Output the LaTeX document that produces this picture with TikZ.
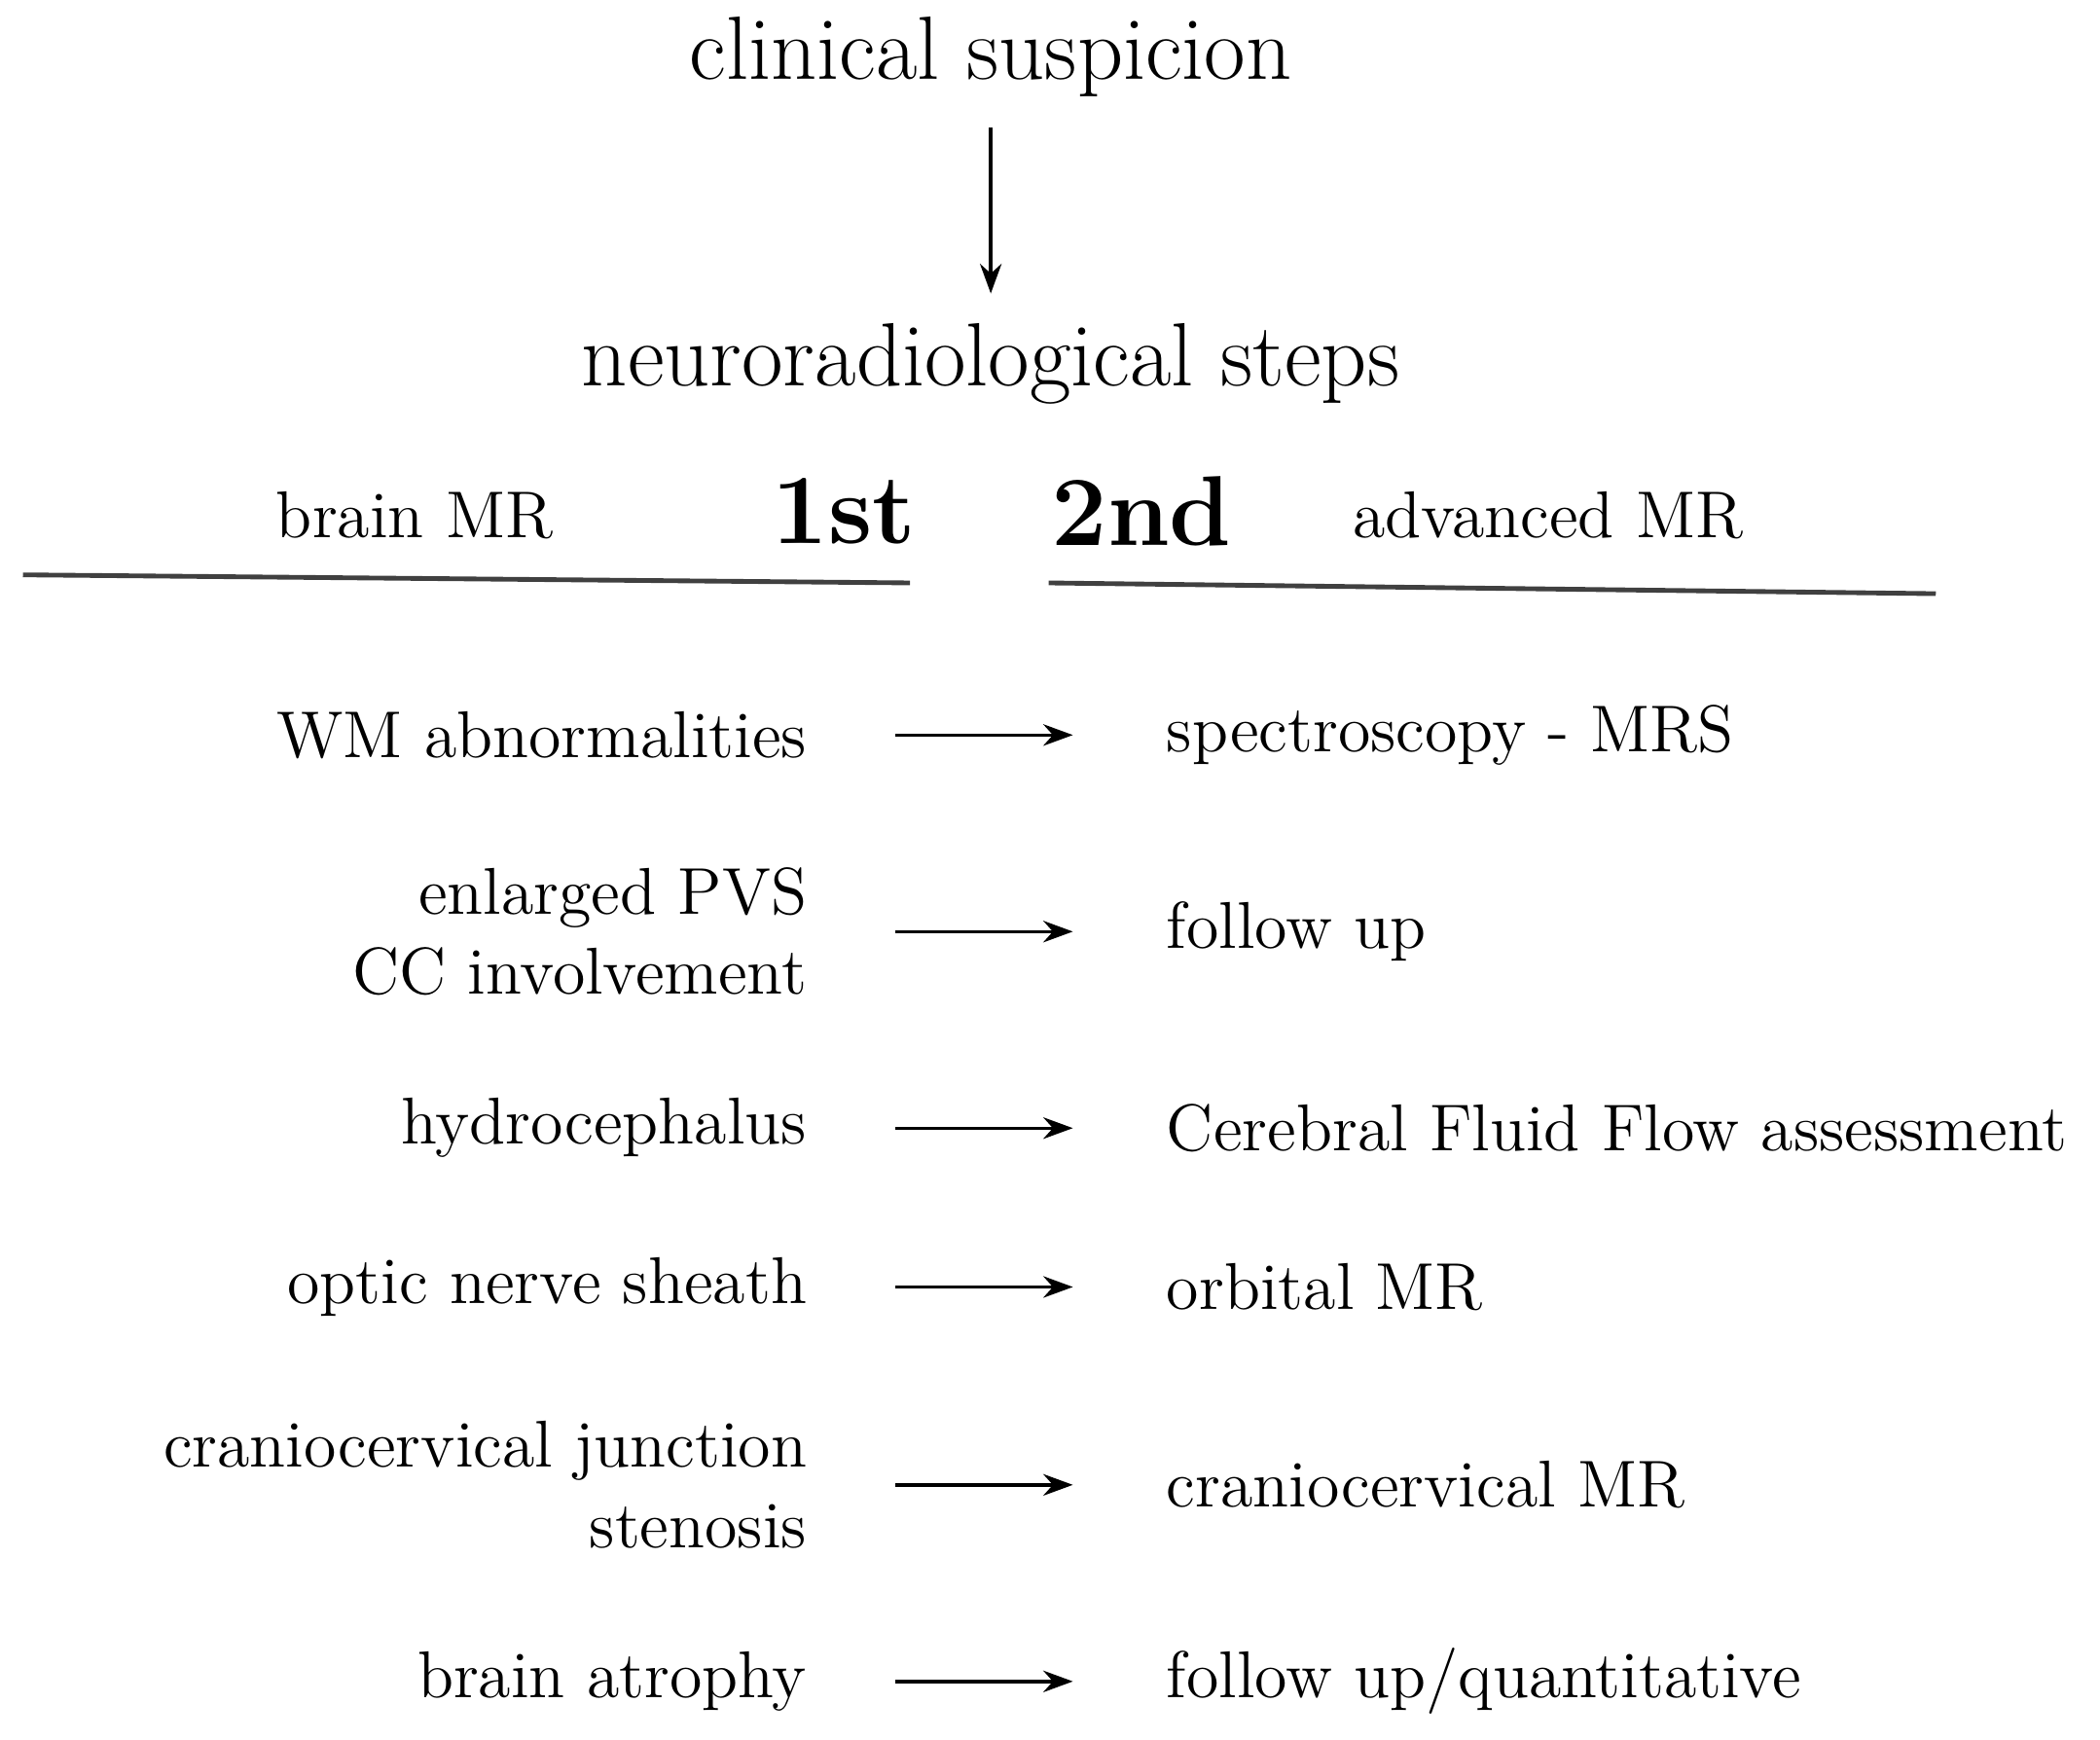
\documentclass[tikz,border=0pt]{standalone}
\usetikzlibrary{arrows.meta}
\begin{document}
\begin{tikzpicture}[x=0.1mm,y=-0.1mm,
  big/.style={font=\fontsize{19}{22}\selectfont},
  hd/.style={font=\fontsize{14}{16}\selectfont},
  num/.style={font=\bfseries\fontsize{21}{24}\selectfont},
  l/.style={font=\fontsize{14}{17}\selectfont, anchor=east, align=right, inner sep=0},
  r/.style={font=\fontsize{14}{17}\selectfont, anchor=west, inner sep=0},
  ar/.style={-{Stealth[length=2.2mm,width=1.6mm]}, line width=0.7pt}]
\useasboundingbox (0,0) rectangle (1560,1292);
\node[big] (cs) at (736,42) {clinical suspicion};
\node[big] (ns) at (736,270) {neuroradiological steps};
\coordinate (a0) at (736,95); \coordinate (a1) at (736,218);
\draw[ar] (a0) -- (a1);
\node[hd] (bm) at (308,383) {brain MR};
\node[num] (n1) at (627,380) {1st};
\node[num] (n2) at (848,380) {2nd};
\node[hd] (am) at (1150,383) {advanced MR};
\coordinate (l0) at (17,427); \coordinate (l1) at (676,433);
\coordinate (l2) at (779,433); \coordinate (l3) at (1438,441);
\draw[line width=1pt, black!75] (l0) -- (l1);
\draw[line width=1pt, black!75] (l2) -- (l3);
\foreach \i/\y/\a/\b in {1/546/WM abnormalities/spectroscopy - MRS,
  2/692/{enlarged PVS\\CC involvement}/follow up,
  3/838/hydrocephalus/Cerebral Fluid Flow assessment,
  4/956/optic nerve sheath/orbital MR,
  5/1103/{craniocervical junction\\stenosis}/craniocervical MR,
  6/1249/brain atrophy/{follow up/quantitative}}{
  \node[l] (L\i) at (600,\y) {\a};
  \node[r] (R\i) at (866,\y) {\b};
  \coordinate (s\i) at (665,\y); \coordinate (e\i) at (797,\y);
  \draw[ar] (s\i) -- (e\i);
}
\end{tikzpicture}
\end{document}
